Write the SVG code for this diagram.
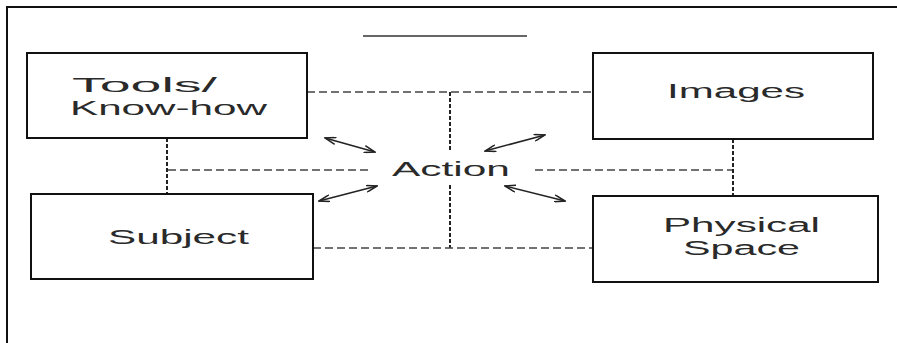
<svg xmlns="http://www.w3.org/2000/svg" width="897" height="343" viewBox="0 0 897 343">
<defs>
<style>
.box{fill:#fff;stroke:#111;stroke-width:2}
.lbl{font-family:"Liberation Sans",Arial,sans-serif;font-size:20px;fill:#2a2a2a}
.dh{fill:none;stroke:#444;stroke-width:1.5;stroke-dasharray:8 4}
.dv{fill:none;stroke:#222;stroke-width:2;stroke-dasharray:4 2}
.arr{fill:none;stroke:#222;stroke-width:1.5;marker-start:url(#ah);marker-end:url(#ah)}
</style>
<marker id="ah" viewBox="0 0 12 8" refX="11" refY="4" markerWidth="12" markerHeight="8" markerUnits="userSpaceOnUse" orient="auto-start-reverse">
<path d="M0,0.5 L11,4 L0,7.5" fill="none" stroke="#222" stroke-width="1.5"/>
</marker>
</defs>
<rect width="897" height="343" fill="#fff"/>
<g id="frame">
<path d="M7,343 L7,7 L897,7" fill="none" stroke="#111" stroke-width="2"/>
<line x1="363" y1="36" x2="527" y2="36" stroke="#666" stroke-width="2"/>
</g>
<g id="connectors">
<line class="dh" x1="307" y1="92" x2="593" y2="92"/>
<line class="dv" x1="450" y1="92" x2="450" y2="150"/>
<line class="dv" x1="450" y1="185" x2="450" y2="248"/>
<line class="dh" x1="168" y1="170" x2="372" y2="170"/>
<line class="dh" x1="535" y1="170" x2="733" y2="170"/>
<line class="dv" x1="167" y1="138" x2="167" y2="194"/>
<line class="dv" x1="733" y1="139" x2="733" y2="196"/>
<line class="dh" x1="313" y1="248" x2="593" y2="248"/>
<line class="arr" x1="325" y1="138" x2="375" y2="152"/>
<line class="arr" x1="485" y1="151" x2="545" y2="135"/>
<line class="arr" x1="319" y1="201" x2="377" y2="186"/>
<line class="arr" x1="505" y1="186" x2="565" y2="201"/>
</g>
<g id="tools">
<rect class="box" x="27" y="53" width="280" height="85"/>
<text class="lbl" x="72" y="92" textLength="145" lengthAdjust="spacingAndGlyphs">Tools/</text>
<text class="lbl" x="70" y="115" textLength="197" lengthAdjust="spacingAndGlyphs">Know-how</text>
</g>
<g id="images">
<rect class="box" x="593" y="53" width="280" height="86"/>
<text class="lbl" x="667" y="98" textLength="138" lengthAdjust="spacingAndGlyphs">Images</text>
</g>
<g id="action">
<text class="lbl" x="392" y="176" textLength="118" lengthAdjust="spacingAndGlyphs">Action</text>
</g>
<g id="subject">
<rect class="box" x="31" y="194" width="282" height="85"/>
<text class="lbl" x="108" y="244" textLength="141" lengthAdjust="spacingAndGlyphs">Subject</text>
</g>
<g id="physical">
<rect class="box" x="593" y="196" width="285" height="86"/>
<text class="lbl" x="663" y="232" textLength="157" lengthAdjust="spacingAndGlyphs">Physical</text>
<text class="lbl" x="683" y="255" textLength="117" lengthAdjust="spacingAndGlyphs">Space</text>
</g>
</svg>
